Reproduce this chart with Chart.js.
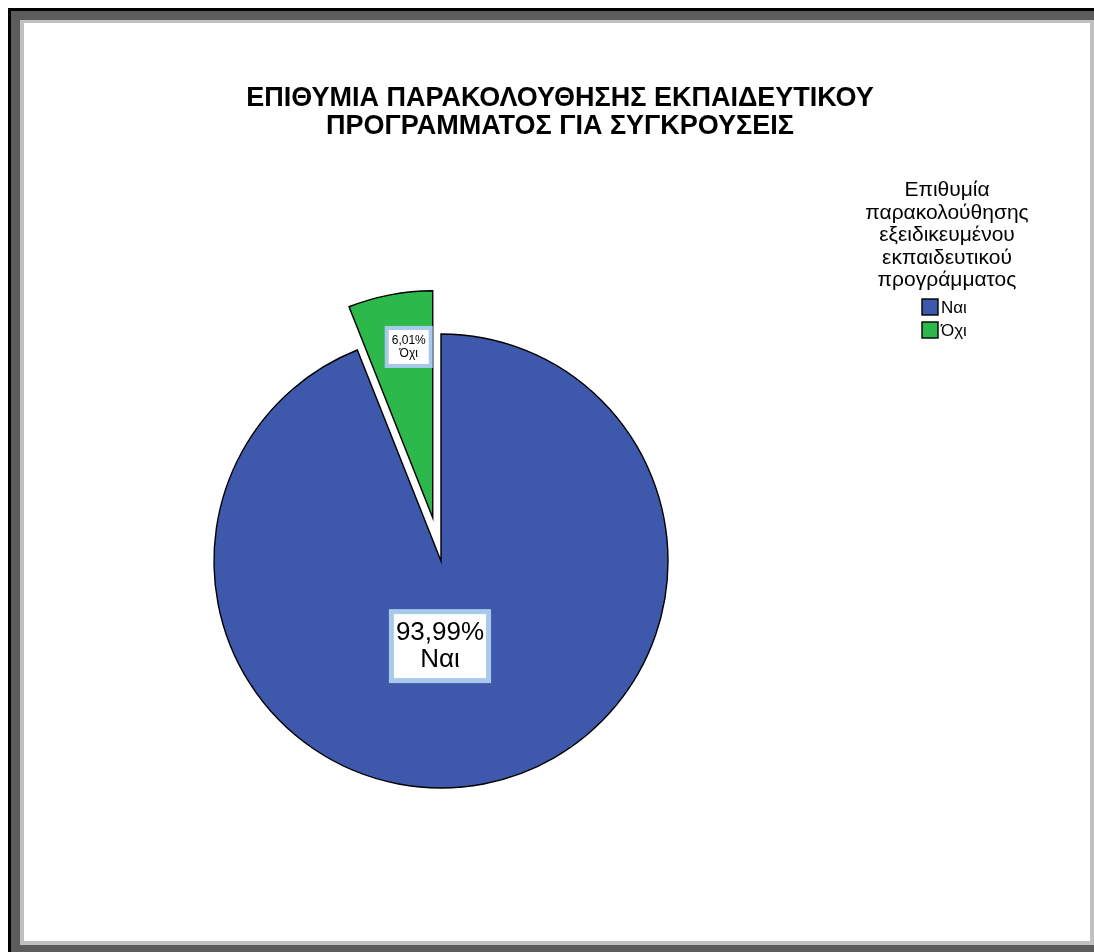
<!DOCTYPE html>
<html>
<head>
<meta charset="utf-8">
<script src="https://cdn.jsdelivr.net/npm/chart.js@4/dist/chart.umd.min.js"></script>
<style>
  html, body { margin: 0; padding: 0; background: #ffffff; overflow: hidden; width: 1094px; height: 952px; }
  .f { position: absolute; }
  #fBlack { left: 8px; top: 8px; right: -20px; bottom: -20px; background: #000000; }
  #fDark { left: 11px; top: 11px; right: -20px; bottom: -20px; background: #5c5c5c; }
  #fLight { left: 20px; top: 20px; right: 0px; bottom: 7px; background: #c0c0c0; }
  #fWhite { left: 24px; top: 23px; right: 4px; bottom: 11px; background: #ffffff; }
  #wrap { position: absolute; left: 0; top: 0; width: 1094px; height: 952px; }
</style>
</head>
<body>
<div class="f" id="fBlack"></div>
<div class="f" id="fDark"></div>
<div class="f" id="fLight"></div>
<div class="f" id="fWhite"></div>
<div id="wrap"><canvas id="c" width="1094" height="952"></canvas></div>
<script>
// ---- data ----
const categories = ['Ναι', 'Όχι'];
const percentages = [93.99, 6.01];
const percentLabels = ['93,99%', '6,01%'];
const titleLines = ['ΕΠΙΘΥΜΙΑ ΠΑΡΑΚΟΛΟΥΘΗΣΗΣ ΕΚΠΑΙΔΕΥΤΙΚΟΥ', 'ΠΡΟΓΡΑΜΜΑΤΟΣ ΓΙΑ ΣΥΓΚΡΟΥΣΕΙΣ'];
const legendTitleLines = ['Επιθυμία', 'παρακολούθησης', 'εξειδικευμένου', 'εκπαιδευτικού', 'προγράμματος'];
const explodedSlices = [false, true];

// ---- styles ----
const sliceColors = ['#3e58ab', '#2db84b'];
const FONT = '"Liberation Sans", Arial, sans-serif';

const explodePlugin = {
  id: 'explode',
  afterDatasetUpdate(chart, args, opts) {
    const meta = chart.getDatasetMeta(args.index);
    meta.data.forEach((arc, i) => {
      if (explodedSlices[i]) {
        const mid = (arc.startAngle + arc.endAngle) / 2;
        arc.x += Math.cos(mid) * opts.distance;
        arc.y += Math.sin(mid) * opts.distance;
      }
    });
  }
};

const sliceLabelPlugin = {
  id: 'sliceLabels',
  afterDatasetsDraw(chart, args, opts) {
    const ctx = chart.ctx;
    const meta = chart.getDatasetMeta(0);
    meta.data.forEach((arc, i) => {
      const p = opts.anchors[i];
      const ang = arc.startAngle + (arc.endAngle - arc.startAngle) * p.t;
      const r = arc.outerRadius * p.r;
      const cx = arc.x + Math.cos(ang) * r;
      const cy = arc.y + Math.sin(ang) * r;
      const fs = opts.fontSizes[i];
      const lh = opts.lineHeights[i];
      ctx.save();
      ctx.font = fs + 'px ' + FONT;
      const lines = [percentLabels[i], categories[i]];
      const tw = Math.max(...lines.map(l => ctx.measureText(l).width));
      const bw = tw + opts.padX[i] * 2;
      const bh = lh * lines.length + opts.padY[i] * 2;
      const bx = cx - bw / 2, by = cy - bh / 2;
      ctx.fillStyle = opts.borderColor;
      ctx.fillRect(bx, by, bw, bh);
      const b = opts.borderWidths[i];
      ctx.fillStyle = '#ffffff';
      ctx.fillRect(bx + b, by + b, bw - 2 * b, bh - 2 * b);
      ctx.fillStyle = '#000000';
      ctx.textAlign = 'center';
      ctx.textBaseline = 'middle';
      lines.forEach((l, k) => {
        ctx.fillText(l, cx, cy + (k - (lines.length - 1) / 2) * lh);
      });
      ctx.restore();
    });
  }
};

const decorPlugin = {
  id: 'decor',
  afterDraw(chart, args, opts) {
    const ctx = chart.ctx;
    ctx.save();
    // Title
    ctx.fillStyle = '#000000';
    ctx.textAlign = 'center';
    ctx.textBaseline = 'alphabetic';
    ctx.font = 'bold ' + opts.titleSize + 'px ' + FONT;
    titleLines.forEach((l, k) => {
      ctx.fillText(l, opts.titleX, opts.titleY + k * opts.titleLineHeight, opts.titleMaxWidths[k]);
    });
    // Legend title
    ctx.font = opts.legendTitleSize + 'px ' + FONT;
    legendTitleLines.forEach((l, k) => {
      ctx.fillText(l, opts.legendX, opts.legendY + k * opts.legendLineHeight);
    });
    // Legend items
    const top = opts.legendItemTop;
    ctx.textAlign = 'left';
    ctx.textBaseline = 'middle';
    ctx.font = opts.legendItemSize + 'px ' + FONT;
    categories.forEach((c, i) => {
      const y = top + i * opts.legendItemSpacing;
      ctx.fillStyle = sliceColors[i];
      ctx.fillRect(opts.boxX, y, opts.boxSize, opts.boxSize);
      ctx.strokeStyle = '#000000';
      ctx.lineWidth = 1.4;
      ctx.strokeRect(opts.boxX, y, opts.boxSize, opts.boxSize);
      ctx.fillStyle = '#000000';
      ctx.fillText(c, opts.boxX + opts.boxSize + 3, y + opts.boxSize / 2 + 1);
    });
    ctx.restore();
  }
};

new Chart(document.getElementById('c'), {
  type: 'pie',
  data: {
    labels: categories,
    datasets: [{
      data: percentages,
      backgroundColor: sliceColors,
      borderColor: '#000000',
      borderWidth: 1.4,
      borderJoinStyle: 'miter'
    }]
  },
  options: {
    responsive: false,
    animation: false,
    events: [],
    radius: 227,
    layout: { padding: { left: 24, right: 236, top: 200, bottom: 30 } },
    plugins: {
      legend: { display: false },
      title: { display: false },
      tooltip: { enabled: false },
      explode: { distance: 44 },
      sliceLabels: {
        anchors: [{ t: 0.534, r: 0.375 }, { t: 0.63, r: 0.76 }],
        fontSizes: [26, 12],
        lineHeights: [27, 13],
        padX: [7, 7],
        padY: [10, 8],
        borderWidths: [5, 4],
        borderColor: '#a7c9ea'
      },
      decor: {
        titleSize: 27, titleX: 560, titleY: 106, titleLineHeight: 28, titleMaxWidths: [630, 468],
        legendTitleSize: 21, legendX: 947, legendY: 196, legendLineHeight: 22.5,
        legendItemTop: 299, legendItemSize: 17, legendItemSpacing: 23, boxX: 922, boxSize: 16
      }
    }
  },
  plugins: [explodePlugin, sliceLabelPlugin, decorPlugin]
});
</script>
</body>
</html>
